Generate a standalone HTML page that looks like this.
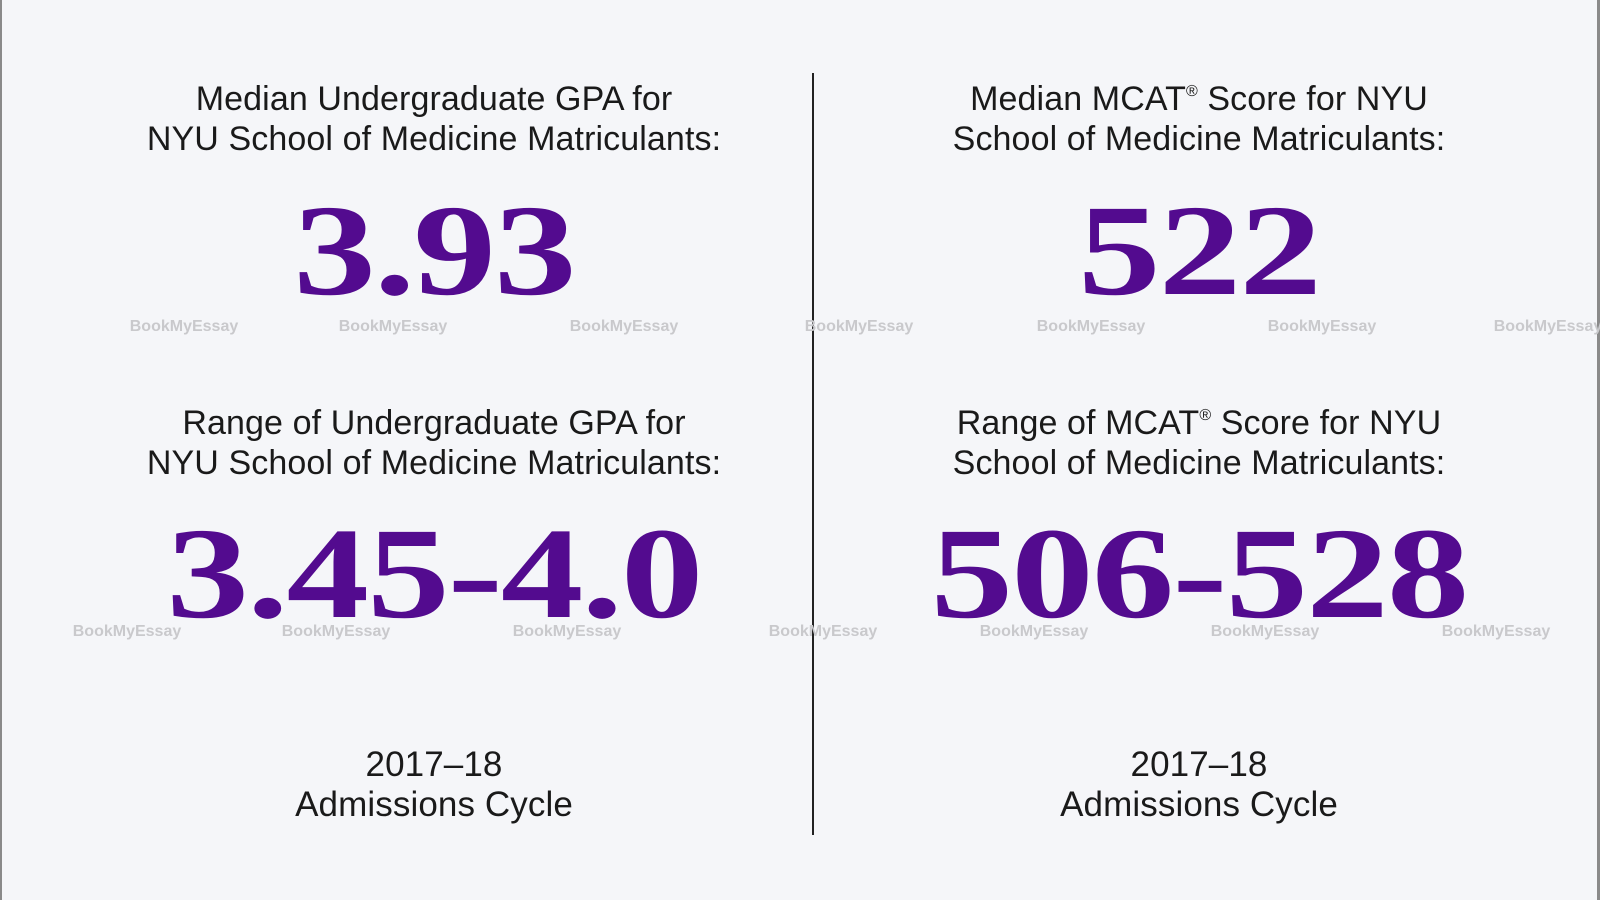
<!DOCTYPE html>
<html><head><meta charset="utf-8"><style>
body{margin:0;width:1600px;height:900px;background:#f5f6f9;position:relative;overflow:hidden;font-family:"Liberation Sans",sans-serif}
.t{position:absolute;transform:translateX(-50%);white-space:nowrap;text-align:center;color:#1a1a1a;font-size:34px;line-height:40px;letter-spacing:0.1px}
.f{font-size:35px}
.n{position:absolute;transform:translateX(-50%) scaleX(1.27);white-space:nowrap;font-family:"Liberation Serif",serif;font-weight:bold;color:#530b8f;font-size:130px;line-height:130px;letter-spacing:-1.5px}
.w{position:absolute;transform:translateX(-50%);white-space:nowrap;color:#c9c9cc;font-size:16px;font-weight:bold;line-height:18px}
.r{font-size:16px;position:relative;top:-14px;line-height:0}
</style></head><body>
<div style="position:absolute;left:0;top:0;width:2px;height:900px;background:#8a8a8a"></div>
<div style="position:absolute;left:1597px;top:0;width:3px;height:900px;background:#8a8a8a"></div>
<div style="position:absolute;left:812px;top:73px;width:2px;height:762px;background:#222"></div>

<div class="t" style="left:434px;top:79px">Median Undergraduate GPA for<br>NYU School of Medicine Matriculants:</div>
<div class="n" style="left:434px;top:186px">3.93</div>
<div class="t" style="left:1199px;top:79px">Median MCAT<span class="r">®</span> Score for NYU<br>School of Medicine Matriculants:</div>
<div class="n" style="left:1199px;top:186px">522</div>

<div class="t" style="left:434px;top:403px">Range of Undergraduate GPA for<br>NYU School of Medicine Matriculants:</div>
<div class="n" style="left:434px;top:509px">3.45-4.0</div>
<div class="t" style="left:1199px;top:403px">Range of MCAT<span class="r">®</span> Score for NYU<br>School of Medicine Matriculants:</div>
<div class="n" style="left:1199px;top:509px">506-528</div>

<div class="t f" style="left:434px;top:745px">2017–18<br>Admissions Cycle</div>
<div class="t f" style="left:1199px;top:745px">2017–18<br>Admissions Cycle</div>

<div class="w" style="left:184px;top:318px">BookMyEssay</div>
<div class="w" style="left:393px;top:318px">BookMyEssay</div>
<div class="w" style="left:624px;top:318px">BookMyEssay</div>
<div class="w" style="left:859px;top:318px">BookMyEssay</div>
<div class="w" style="left:1091px;top:318px">BookMyEssay</div>
<div class="w" style="left:1322px;top:318px">BookMyEssay</div>
<div class="w" style="left:1548px;top:318px">BookMyEssay</div>
<div class="w" style="left:127px;top:623px">BookMyEssay</div>
<div class="w" style="left:336px;top:623px">BookMyEssay</div>
<div class="w" style="left:567px;top:623px">BookMyEssay</div>
<div class="w" style="left:823px;top:623px">BookMyEssay</div>
<div class="w" style="left:1034px;top:623px">BookMyEssay</div>
<div class="w" style="left:1265px;top:623px">BookMyEssay</div>
<div class="w" style="left:1496px;top:623px">BookMyEssay</div>
</body></html>
